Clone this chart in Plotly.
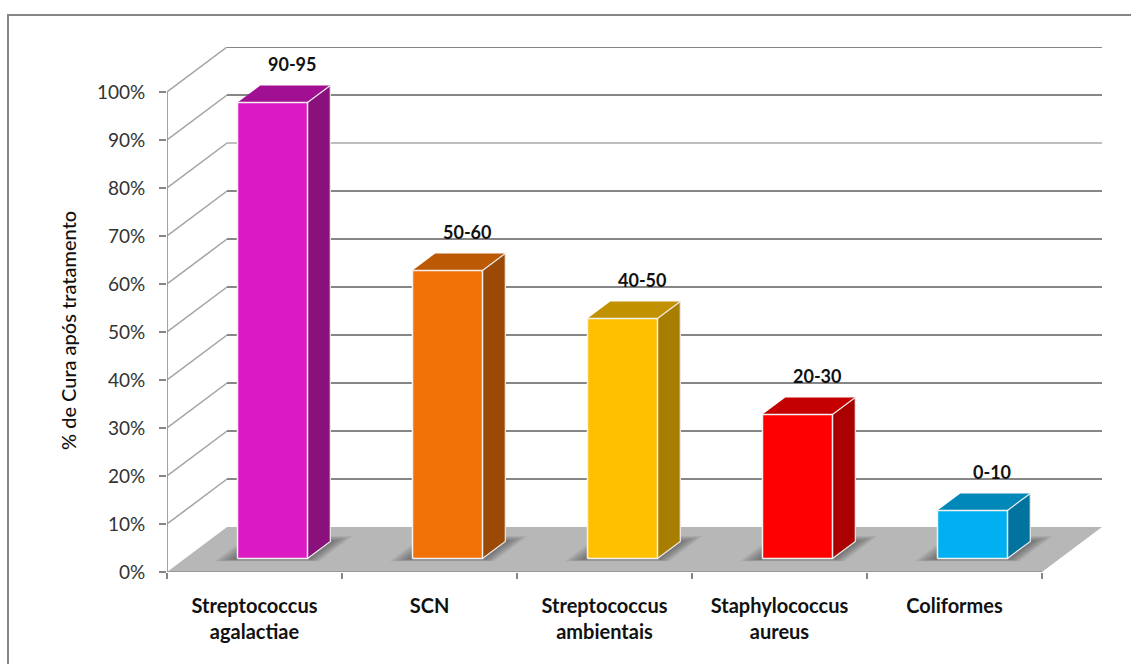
import plotly.graph_objects as go

# Chart data
categories = ["Streptococcus<br>agalactiae", "SCN", "Streptococcus<br>ambientais",
              "Staphylococcus<br>aureus", "Coliformes"]
cure_upper = [95, 60, 50, 30, 10]
cure_ranges = ["90-95", "50-60", "40-50", "20-30", "0-10"]
grid_levels = [10, 20, 30, 40, 50, 60, 70, 80, 90, 100]
tick_levels = [0, 10, 20, 30, 40, 50, 60, 70, 80, 90, 100]
tick_labels = ["0%", "10%", "20%", "30%", "40%", "50%", "60%", "70%", "80%", "90%", "100%"]

# Face colours of each column
front_colors = ["#DC1AC4", "#F37207", "#FFC000", "#FF0000", "#00B0F0"]
side_colors = ["#8A107C", "#9B4A05", "#A87E00", "#AA0000", "#00749E"]
top_colors = ["#A11092", "#BB5905", "#C29100", "#C40000", "#0088B8"]

# Oblique projection of the floor depth, in axis units
DEPTH_X = 0.343
DEPTH_Y = 9.375
X_MAX = 5 + DEPTH_X
Y_MAX = 100 + DEPTH_Y
BAR_W = 0.40
NEAR, FAR = 0.30, 0.68

LEFT, RIGHT, TOP, BOTTOM = 167, 29, 47, 92
W, H = 1131, 664
GRID = "#868686"


def project(x, y, d):
    """Shift a point back along the floor depth d (0 = front, 1 = back)."""
    return x + DEPTH_X * d, y + DEPTH_Y * d


def polygon(points, fill, name=""):
    xs = [p[0] for p in points] + [points[0][0]]
    ys = [p[1] for p in points] + [points[0][1]]
    return go.Scatter(x=xs, y=ys, mode="lines", fill="toself", fillcolor=fill,
                      line=dict(width=0), hoverinfo="skip", showlegend=False,
                      name=name, cliponaxis=False)


def stroke(xs, ys, color, width):
    return go.Scatter(x=xs, y=ys, mode="lines", line=dict(color=color, width=width),
                      hoverinfo="skip", showlegend=False, cliponaxis=False)


fig = go.Figure()

# Back wall gridlines and the diagonals on the side wall
for level in grid_levels:
    bx, by = project(0, level, 1)
    ex, ey = project(5, level, 1)
    fig.add_trace(stroke([0, bx], [level, by], "#A2A2A2", 1.5))
    fig.add_trace(stroke([bx, ex], [by, ey], "#BEBEBE" if level == 80 else GRID, 2))

# Floor
fig.add_trace(polygon([project(0, 0, 0), project(5, 0, 0), project(5, 0, 1), project(0, 0, 1)],
                      "#B7B7B7", "floor"))

# Columns
SHADOW_STEPS = 12
for i, value in enumerate(cure_upper):
    x0 = i + 0.5 - BAR_W / 2
    x1 = i + 0.5 + BAR_W / 2

    # Soft shadow around the foot of the column, built from nested translucent layers
    for k in range(SHADOW_STEPS):
        t = k / (SHADOW_STEPS - 1)
        g = 0.11 * (1 - t)
        near = 0.24 + 0.05 * t
        far = 0.80 - 0.14 * t
        fig.add_trace(polygon([
            project(x0 - g, 0, near),
            project(x1 + g * 0.8, 0, near),
            project(x1 + g * 0.8, 0, far),
            project(x0 - g, 0, far),
        ], "rgba(50,50,50,0.06)", "shadow"))

    a = project(x0, 0, NEAR)
    b = project(x1, 0, NEAR)
    c = project(x1, value, NEAR)
    d = project(x0, value, NEAR)
    e = project(x1, 0, FAR)
    f = project(x1, value, FAR)
    g2 = project(x0, value, FAR)

    fig.add_trace(polygon([b, e, f, c], side_colors[i], "side"))
    fig.add_trace(polygon([d, c, f, g2], top_colors[i], "top"))
    fig.add_trace(polygon([a, b, c, d], front_colors[i], "front"))

    # Light edges of the column
    fig.add_trace(stroke([a[0], b[0], c[0], d[0], a[0]], [a[1], b[1], c[1], d[1], a[1]], "#F2F2F2", 1.5))
    fig.add_trace(stroke([b[0], e[0], f[0], c[0]], [b[1], e[1], f[1], c[1]], "#EDEDED", 1.2))

    # Range label above the column
    lx, ly = project(i + 0.5 - 0.02, value, FAR)
    fig.add_annotation(x=lx, y=ly, text=cure_ranges[i], showarrow=False, yshift=21,
                       font=dict(family="Lato", size=18, color="#111111", weight="bold"))

# Axis lines stop at the chart's own extent, not the full plotting box
fig.add_trace(stroke([0, 0], [0, 100], GRID, 1.5))
fig.add_trace(stroke([0, 5], [0, 0], "#9A9A9A", 2))

fig.update_layout(
    width=W, height=H, autosize=False,
    margin=dict(l=LEFT, r=RIGHT, t=TOP, b=BOTTOM),
    paper_bgcolor="white", plot_bgcolor="white",
    showlegend=False,
    xaxis=dict(
        range=[0, X_MAX], showgrid=False, zeroline=False, showline=False,
        tickmode="array", tickvals=[i + 0.5 for i in range(5)], ticktext=categories,
        ticks="outside", tickcolor="rgba(0,0,0,0)", ticklen=16, tickangle=0,
        tickfont=dict(family="Lato", size=20, color="#111111", weight="bold"),
        minor=dict(tickmode="array", tickvals=[0, 1, 2, 3, 4, 5], ticks="outside",
                   ticklen=6, tickwidth=1.5, tickcolor=GRID, showgrid=False),
    ),
    yaxis=dict(
        range=[0, Y_MAX], showgrid=False, zeroline=False, showline=False,
        tickmode="array", tickvals=tick_levels, ticktext=tick_labels,
        ticks="outside", ticklen=7, tickwidth=1.5, tickcolor=GRID,
        ticklabelstandoff=10,
        tickfont=dict(family="Lato", size=19, color="#333333"),
    ),
)

# Outer frame of the chart, running off the page on the right and bottom
px = lambda v: (v - LEFT) / (W - LEFT - RIGHT)
py = lambda v: 1 - (v - TOP) / (H - TOP - BOTTOM)
fig.add_shape(type="rect", xref="paper", yref="paper",
              x0=px(8), x1=px(W + 20), y0=py(15), y1=py(H + 20),
              line=dict(color="#868686", width=2), fillcolor="rgba(0,0,0,0)", layer="below")

# Value-axis title
fig.add_annotation(xref="paper", yref="paper", x=px(68), y=py(331), text="% de Cura após tratamento",
                   textangle=-90, showarrow=False, xanchor="center", yanchor="middle",
                   font=dict(family="Lato", size=20, color="#111111", weight=500))

fig.write_html("out.html", config=dict(displayModeBar=False))
